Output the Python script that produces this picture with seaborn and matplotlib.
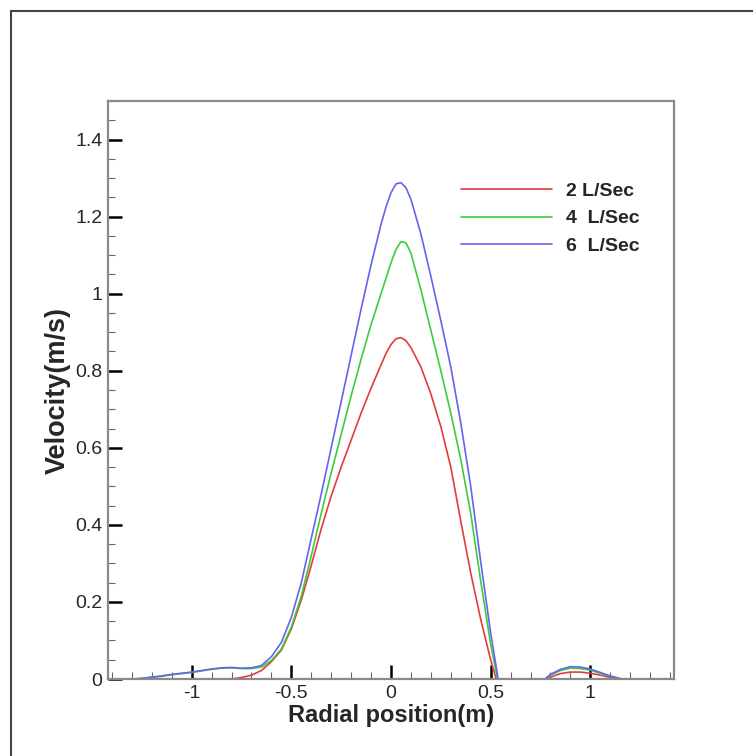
import numpy as np
import pandas as pd
import seaborn as sns
import matplotlib
matplotlib.use("Agg")
import matplotlib.pyplot as plt
from matplotlib.ticker import MultipleLocator, FuncFormatter
from matplotlib.patches import Rectangle

# ---- data ----
radial_position = [
    -1.42, -1.35, -1.30, -1.25, -1.20, -1.15, -1.10, -1.05, -1.00, -0.95, -0.90,
    -0.85, -0.80, -0.75, -0.70, -0.65, -0.60, -0.55, -0.50, -0.45, -0.40, -0.35,
    -0.30, -0.25, -0.20, -0.15, -0.10, -0.05, -0.025, 0.00, 0.025, 0.05, 0.075,
    0.10, 0.15, 0.20, 0.25, 0.30, 0.35, 0.40, 0.45, 0.50, 0.55, 0.60, 0.65, 0.70,
    0.75, 0.80, 0.85, 0.90, 0.95, 1.00, 1.05, 1.10, 1.15, 1.20, 1.25, 1.30, 1.35,
    1.42]

vel_2 = [
    0.0, 0.0, 0.0, 0.0, 0.0, 0.0, 0.0, 0.0, 0.0, 0.0, 0.0,
    0.0, 0.0, 0.004, 0.010, 0.022, 0.045, 0.075, 0.13, 0.205, 0.295, 0.39,
    0.475, 0.55, 0.62, 0.69, 0.755, 0.815, 0.845, 0.868, 0.883, 0.886, 0.878,
    0.86, 0.81, 0.74, 0.655, 0.55, 0.41, 0.275, 0.155, 0.05, -0.04, -0.04, -0.04, -0.03,
    -0.01, 0.005, 0.014, 0.018, 0.018, 0.015, 0.010, 0.004, 0.0, -0.01, -0.02, -0.02, -0.02,
    -0.02]

vel_4 = [
    0.0, 0.0, 0.0, 0.001, 0.004, 0.007, 0.011, 0.014, 0.017, 0.021, 0.025,
    0.028, 0.029, 0.027, 0.027, 0.031, 0.048, 0.078, 0.135, 0.215, 0.32, 0.43,
    0.535, 0.635, 0.735, 0.83, 0.92, 1.0, 1.04, 1.08, 1.115, 1.135, 1.132,
    1.105, 1.01, 0.905, 0.80, 0.69, 0.57, 0.43, 0.255, 0.09, -0.04, -0.04, -0.04, -0.03,
    -0.01, 0.010, 0.022, 0.028, 0.027, 0.023, 0.015, 0.007, 0.001, -0.01, -0.02, -0.02, -0.02,
    -0.02]

vel_6 = [
    0.0, 0.0, 0.0, 0.002, 0.005, 0.008, 0.012, 0.015, 0.018, 0.022, 0.026,
    0.029, 0.030, 0.028, 0.029, 0.035, 0.058, 0.095, 0.16, 0.25, 0.365, 0.48,
    0.60, 0.72, 0.84, 0.96, 1.075, 1.18, 1.225, 1.262, 1.285, 1.288, 1.275,
    1.245, 1.155, 1.045, 0.93, 0.81, 0.665, 0.50, 0.305, 0.12, -0.04, -0.04, -0.04, -0.03,
    -0.01, 0.012, 0.025, 0.032, 0.031, 0.026, 0.017, 0.008, 0.001, -0.01, -0.02, -0.02, -0.02,
    -0.02]

series_labels = ["2 L/Sec", "4  L/Sec", "6  L/Sec"]
series_colors = ["#e03c3c", "#3ccc3c", "#6464ee"]
x_major_ticks = [-1, -0.5, 0, 0.5, 1]
y_major_ticks = [0, 0.2, 0.4, 0.6, 0.8, 1.0, 1.2, 1.4]

df = pd.concat([
    pd.DataFrame({"x": radial_position, "v": vals, "flow": lab})
    for vals, lab in zip([vel_2, vel_4, vel_6], series_labels)
], ignore_index=True)

# ---- figure ----
sns.set_style("white")
plt.rcParams["font.family"] = ["Liberation Sans", "DejaVu Sans"]
plt.rcParams["axes.unicode_minus"] = False

fig = plt.figure(figsize=(7.53, 7.56), dpi=100)
W, H = 753, 756
ax = fig.add_axes([108 / W, 1 - 679 / H, (674 - 108) / W, (679 - 101) / H])

sns.lineplot(data=df, x="x", y="v", hue="flow", hue_order=series_labels,
             palette=series_colors, sort=False, estimator=None, linewidth=1.2,
             ax=ax, legend=True)

ax.set_xlim(-1.42, 1.42)
ax.set_ylim(0, 1.5)
ax.set_xticks(x_major_ticks)
ax.set_yticks(y_major_ticks)
ax.xaxis.set_minor_locator(MultipleLocator(0.1))
ax.yaxis.set_minor_locator(MultipleLocator(0.05))
fmt = FuncFormatter(lambda v, p: "%g" % round(v, 3))
ax.xaxis.set_major_formatter(fmt)
ax.yaxis.set_major_formatter(fmt)

ax.tick_params(which="major", direction="in", length=10, width=1.8,
               color="black", labelsize=14, pad=4)
ax.tick_params(which="minor", direction="in", length=5, width=0.8,
               color="#666666")
ax.tick_params(axis="x", which="both", bottom=True, top=False)
ax.tick_params(axis="y", which="both", left=True, right=False)

for s in ax.spines.values():
    s.set_color("#8a8a8a")
    s.set_linewidth(1.6)

ax.set_xlabel("Radial position(m)", fontsize=17, fontweight="bold", labelpad=2)
ax.set_ylabel("Velocity(m/s)", fontsize=19.5, fontweight="bold", labelpad=3)

handles, labels = ax.get_legend_handles_labels()
leg = ax.legend(handles, labels, frameon=False, loc="upper left",
                bbox_to_anchor=(443 / W, 1 - 165 / H), bbox_transform=fig.transFigure,
                handlelength=4.7, handletextpad=0.75, labelspacing=0.5,
                prop={"weight": "bold", "size": 14})

# outer frame (extends past the right and bottom edges)
fig.patches.append(Rectangle((10.5 / W, -0.05), 1.2, 1 - 11.5 / H + 0.05,
                             transform=fig.transFigure, fill=False,
                             edgecolor="#444444", linewidth=1.5))

fig.savefig("out.png", dpi=100)
